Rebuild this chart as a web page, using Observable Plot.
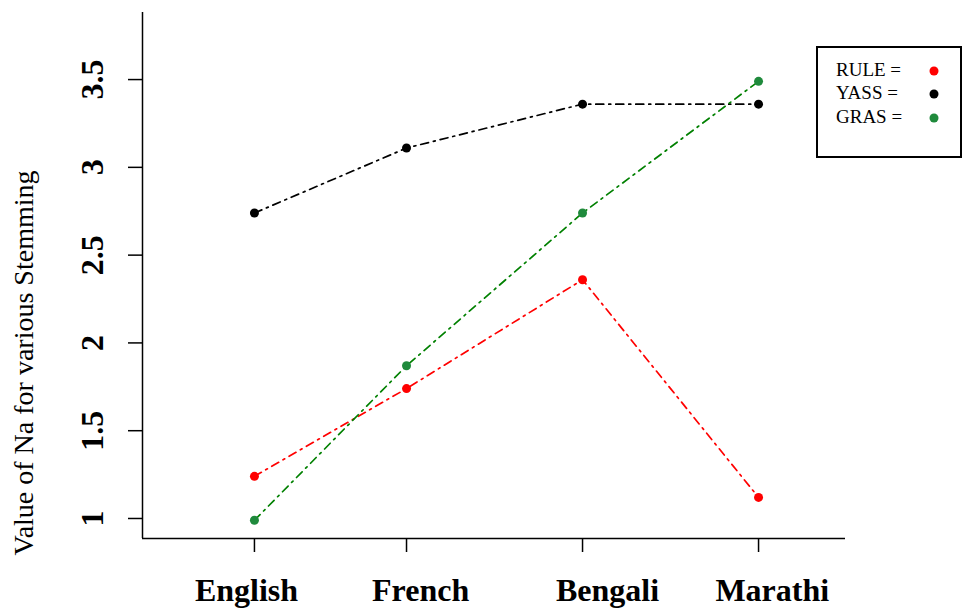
<!DOCTYPE html>
<html><head><meta charset="utf-8">
<script src="https://cdn.jsdelivr.net/npm/d3@7"></script>
<script src="https://cdn.jsdelivr.net/npm/@observablehq/plot@0.6"></script>
<style>body{margin:0;background:#fff} #chart{position:relative;width:962px;height:608px}</style>
</head><body><div id="chart"></div>
<script>
const languages = ["English", "French", "Bengali", "Marathi"];
const languagePos = [1, 1.864, 2.864, 3.864];
const languageLabelPos = [0.955, 1.944, 3.006, 3.942];
const ruleValues = [1.24, 1.74, 2.36, 1.12];
const yassValues = [2.74, 3.11, 3.36, 3.36];
const grasValues = [0.99, 1.87, 2.74, 3.49];
const seriesNames = ["RULE", "YASS", "GRAS"];
const lineColors = ["#ff0000", "#000000", "#008000"];
const pointColors = ["#ff0000", "#000000", "#1f8a3c"];
const yTicks = [1, 1.5, 2, 2.5, 3, 3.5];
const yTickLabels = ["1", "1.5", "2", "2.5", "3", "3.5"];
const yTitle = "Value of Na for various Stemming";

const seriesValues = [ruleValues, yassValues, grasValues];
const rows = [];
seriesNames.forEach((s, i) => {
  languages.forEach((l, j) => rows.push({series: s, si: i, lang: l, x: languagePos[j], y: seriesValues[i][j]}));
});

const xDom = [0.364, 4.358];
const yDom = [0.886, 3.882];
const font = "Liberation Serif, Times New Roman, serif";

const plot = Plot.plot({
  width: 962, height: 608,
  marginLeft: 142, marginRight: 117, marginTop: 12, marginBottom: 70,
  x: {domain: xDom},
  y: {domain: yDom},
  color: {type: "identity"},
  style: {fontFamily: font, background: "white"},
  marks: [
    Plot.ruleX([xDom[0]], {stroke: "black", strokeWidth: 1.5}),
    Plot.ruleY([yDom[0]], {stroke: "black", strokeWidth: 1.5}),
    Plot.axisY({ticks: yTicks, tickSize: 14, tickFormat: () => "", label: null, strokeWidth: 1.5}),
    Plot.axisX({ticks: languagePos, tickSize: 14, tickFormat: () => "", label: null, strokeWidth: 1.5}),
    Plot.text(yTicks, {y: d => d, text: (d, i) => yTickLabels[i], frameAnchor: "left", dx: -50, rotate: -90,
      fontSize: 32, fontWeight: "bold", textAnchor: "middle", lineAnchor: "middle", fill: "black"}),
    Plot.text(languages, {x: (d, i) => languageLabelPos[i], text: d => d, frameAnchor: "bottom", dy: 62,
      lineAnchor: "bottom", fontSize: 32, fontWeight: "bold", fill: "black"}),
    Plot.line(rows, {x: "x", y: "y", z: "series", stroke: d => lineColors[d.si], curve: "linear",
      strokeDasharray: "8,5,2,5", strokeWidth: 1.7}),
    Plot.dot(rows, {x: "x", y: "y", r: 4.5, fill: d => pointColors[d.si], stroke: "none"})
  ]
});
document.getElementById("chart").appendChild(plot);

const svg = d3.select(plot);
svg.append("text")
  .attr("transform", "translate(33,363) rotate(-90)")
  .attr("text-anchor", "middle")
  .attr("font-family", font)
  .attr("font-size", 28)
  .attr("fill", "black")
  .text(yTitle);

const lg = svg.append("g");
lg.append("rect").attr("x", 817).attr("y", 47).attr("width", 144).attr("height", 110)
  .attr("fill", "white").attr("stroke", "black").attr("stroke-width", 2);
const rowY = [76, 99, 123];
seriesNames.forEach((s, i) => {
  lg.append("text").attr("x", 836).attr("y", rowY[i]).attr("text-anchor", "start")
    .attr("font-family", font).attr("font-size", 19)
    .attr("fill", "black").text(s + " =");
  lg.append("circle").attr("cx", 934).attr("cy", rowY[i] - 5).attr("r", 4.5).attr("fill", pointColors[i]);
});
</script>
</body></html>
